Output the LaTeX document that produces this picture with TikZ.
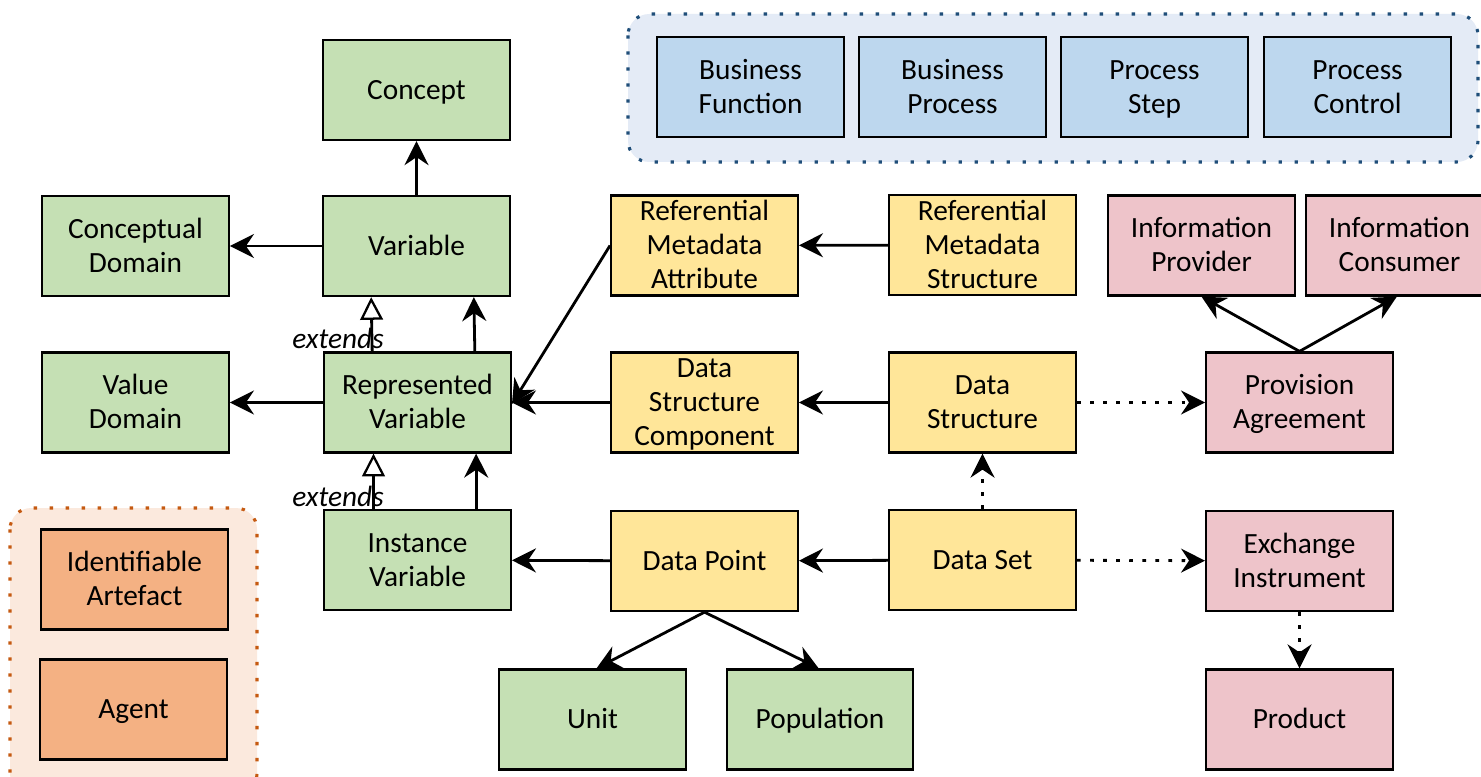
\documentclass[tikz,border=0pt]{standalone}
\usepackage{fontspec}
\setmainfont{Carlito}
\usetikzlibrary{arrows.meta}
\definecolor{cgreen}{HTML}{C5E0B4}
\definecolor{cyellow}{HTML}{FFE699}
\definecolor{cpink}{HTML}{EEC4CA}
\definecolor{cblue}{HTML}{BDD7EE}
\definecolor{corange}{HTML}{F4B183}
\definecolor{bluebg}{HTML}{E4EBF6}
\definecolor{blueedge}{HTML}{1F4E79}
\definecolor{orangebg}{HTML}{FBE9DD}
\definecolor{orangeedge}{HTML}{C55A11}
% box labels are centred on their capitals: the first line carries cap height,
% every line is smashed so descenders do not shift the text
\newcommand\firstln[1]{\smash{#1}\vphantom{H}}
\newcommand\nextln[1]{\smash{#1}}
\tikzset{
  box/.style={draw=black, line width=1.7pt, minimum width=140pt, minimum height=75pt,
    align=center, inner sep=0pt, font=\fontsize{22}{25.5}\selectfont},
  gbox/.style={box, fill=cgreen},
  ybox/.style={box, fill=cyellow},
  pbox/.style={box, fill=cpink},
  bbox/.style={box, fill=cblue},
  obox/.style={box, fill=corange},
  arr/.style={line width=2.1pt, -{Stealth[length=18pt,width=18pt,inset=6pt]}},
  darr/.style={arr, dash pattern=on 2.8pt off 7pt},
  ext/.style={line width=2.1pt, -{Triangle[open,length=17pt,width=17pt,line width=1.7pt,fill=white]}},
  extlabel/.style={font=\fontsize{22}{26}\selectfont\itshape, inner sep=0pt},
  group/.style={rounded corners=16pt, line width=2.3pt, dash pattern=on 2.5pt off 9.5pt},
}
\begin{document}
\begin{tikzpicture}[x=0.75pt, y=-0.75pt]
\path[use as bounding box, clip] (0,0) rectangle (1481,777);
\fill[white] (0,0) rectangle (1481,777);

% containers
\draw[group, fill=bluebg, draw=blueedge] (628,14) rectangle (1478,162);
\draw[group, fill=orangebg, draw=orangeedge] (10,508) rectangle (257,795);

% process group
\node[bbox] (bfun) at (750.5,87) {\firstln{Business}\\\nextln{Function}};
\node[bbox] (bproc) at (952.5,87) {\firstln{Business}\\\nextln{Process}};
\node[bbox] (pstep) at (1154.5,87) {\firstln{Process}\\\nextln{Step}};
\node[bbox] (pctrl) at (1357.5,87) {\firstln{Process}\\\nextln{Control}};

% base group
\node[obox] (ident) at (134.5,579.5) {\firstln{Identifiable}\\\nextln{Artefact}};
\node[obox] (agent) at (133.5,709.5) {\firstln{Agent}};

% concepts and variables
\node[gbox] (concept) at (416.5,90) {\firstln{Concept}};
\node[gbox] (var) at (416.5,246) {\firstln{Variable}};
\node[gbox] (cdom) at (135.5,246) {\firstln{Conceptual}\\\nextln{Domain}};
\node[gbox] (vdom) at (135.5,402.5) {\firstln{Value}\\\nextln{Domain}};
\node[gbox] (rep) at (417.5,402.5) {\firstln{Represented}\\\nextln{Variable}};
\node[gbox] (inst) at (417.5,560) {\firstln{Instance}\\\nextln{Variable}};
\node[gbox] (unit) at (592.5,719.5) {\firstln{Unit}};
\node[gbox] (pop) at (820,719.5) {\firstln{Population}};

% structures and data
\node[ybox] (rma) at (704.5,245.5) {\firstln{Referential}\\\nextln{Metadata}\\\nextln{Attribute}};
\node[ybox] (rms) at (982.5,245) {\firstln{Referential}\\\nextln{Metadata}\\\nextln{Structure}};
\node[ybox] (dsc) at (704.5,402.5) {\firstln{Data}\\\nextln{Structure}\\\nextln{Component}};
\node[ybox] (ds) at (982.5,402.5) {\firstln{Data}\\\nextln{Structure}};
\node[ybox] (dp) at (704.5,561) {\firstln{Data Point}};
\node[ybox] (dset) at (982.5,560) {\firstln{Data Set}};

% exchange
\node[pbox] (iprov) at (1201.5,245.5) {\firstln{Information}\\\nextln{Provider}};
\node[pbox] (icons) at (1399.5,245.5) {\firstln{Information}\\\nextln{Consumer}};
\node[pbox] (prov) at (1299.5,402.5) {\firstln{Provision}\\\nextln{Agreement}};
\node[pbox] (exch) at (1299.5,561) {\firstln{Exchange}\\\nextln{Instrument}};
\node[pbox] (prod) at (1299.5,719.5) {\firstln{Product}};

% connectors
\draw[arr] (var) -- (concept);
\draw[arr] (var) -- (cdom);
\draw[arr] ([xshift=43pt]rep.north) -- ([xshift=43pt]var.south);
\draw[ext] ([xshift=-34pt]rep.north) -- ([xshift=-34pt]var.south);
\draw[arr] (rep) -- (vdom);
\draw[arr] ([xshift=44pt]inst.north) -- ([xshift=44pt]rep.north |- rep.south);
\draw[ext] ([xshift=-33pt]inst.north) -- ([xshift=-33pt]rep.north |- rep.south);
\node[extlabel] (ext1) at (338,338) {extends};
\node[extlabel] (ext2) at (338,496) {extends};

\draw[arr] (dp) -- (inst);
\draw[arr] (dp.south) -- ([xshift=3pt]unit.north);
\draw[arr] (dp.south) -- ([xshift=-1pt]pop.north);
\draw[arr] (dset) -- (dp);
\draw[darr] (dset) -- (ds);
\draw[darr] (dset) -- (exch);
\draw[arr] (ds) -- (dsc);
\draw[darr] (ds) -- (prov);
\draw[arr] (dsc) -- (rep);
\draw[arr] (rma.west) -- ([yshift=-1pt]rep.east);
\draw[arr] (rms) -- (rma);
\draw[arr] (prov.north) -- (iprov.south);
\draw[arr] (prov.north) -- ([xshift=-2pt]icons.south);
\draw[darr] (exch) -- (prod);
\end{tikzpicture}
\end{document}
